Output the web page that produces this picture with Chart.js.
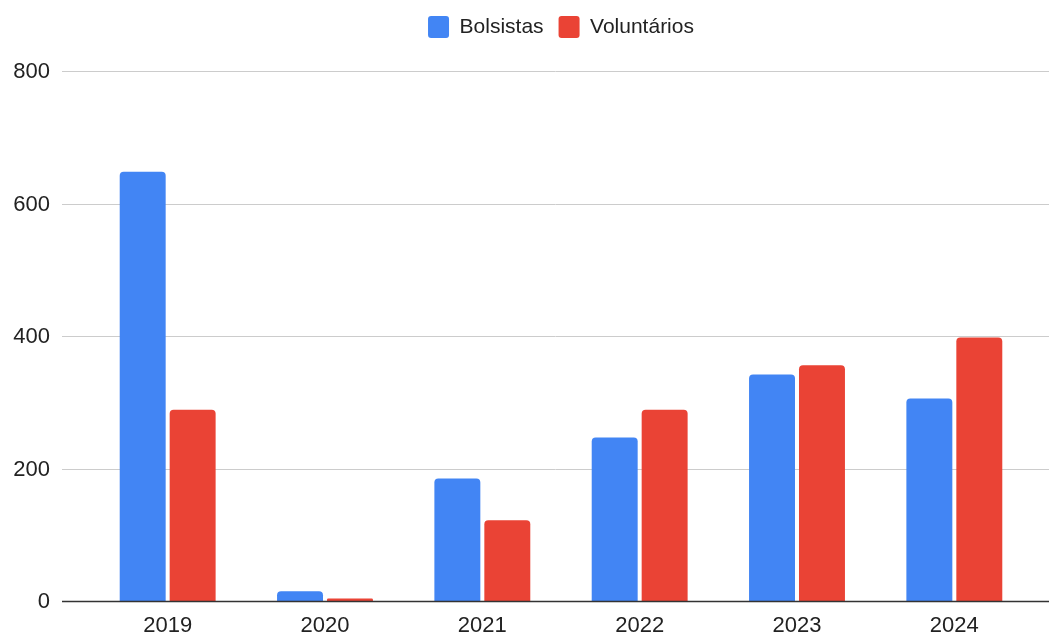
<!DOCTYPE html>
<html>
<head>
<meta charset="utf-8">
<script src="https://cdn.jsdelivr.net/npm/chart.js@4"></script>
<style>
  html, body { margin: 0; padding: 0; background: #fff; }
  #wrap { width: 1049px; height: 632px; }
</style>
</head>
<body>
<div id="wrap"><canvas id="myChart"></canvas></div>
<script>
var anos = ['2019', '2020', '2021', '2022', '2023', '2024'];
var bolsistas = [648, 15, 185, 247, 342, 306];
var voluntarios = [289, 4, 122, 289, 356, 398];
var ticksY = [0, 200, 400, 600, 800];

var fonte = "'Liberation Sans', Arial, sans-serif";

// linhas de grade e rotulos do eixo y no estilo do Google Charts
var gradePlugin = {
    id: 'grade',
    beforeInit: function (chart) {
        // espaco extra abaixo da legenda
        var fitOriginal = chart.legend.fit;
        chart.legend.fit = function () {
            fitOriginal.bind(chart.legend)();
            this.height += 23;
        };
    },
    beforeDatasetsDraw: function (chart) {
        var ctx = chart.ctx;
        var y = chart.scales.y;
        ctx.save();
        ticksY.forEach(function (v) {
            var py = Math.round(y.getPixelForValue(v)) + 0.5;
            if (v !== 0) {
                ctx.beginPath();
                ctx.moveTo(62, py);
                ctx.lineTo(1049, py);
                ctx.lineWidth = 1;
                ctx.strokeStyle = '#cccccc';
                ctx.stroke();
            }
            ctx.fillStyle = '#222222';
            ctx.font = '22px ' + fonte;
            ctx.textAlign = 'right';
            ctx.textBaseline = 'middle';
            ctx.fillText(String(v), 50, py);
        });
        ctx.restore();
    },
    afterDatasetsDraw: function (chart) {
        var ctx = chart.ctx;
        var py = Math.round(chart.scales.y.getPixelForValue(0)) + 0.5;
        ctx.save();
        ctx.beginPath();
        ctx.moveTo(62, py);
        ctx.lineTo(1049, py);
        ctx.lineWidth = 1.6;
        ctx.strokeStyle = '#333333';
        ctx.stroke();
        ctx.restore();
    }
};

var ctx = document.getElementById('myChart').getContext('2d');
var myChart = new Chart(ctx, {
    type: 'bar',
    data: {
        labels: anos,
        datasets: [{
            label: 'Bolsistas',
            data: bolsistas,
            backgroundColor: '#4285F4',
            borderRadius: { topLeft: 4, topRight: 4 },
            borderSkipped: 'bottom'
        }, {
            label: 'Voluntários',
            data: voluntarios,
            backgroundColor: '#EA4335',
            borderRadius: { topLeft: 4, topRight: 4 },
            borderSkipped: 'bottom'
        }]
    },
    options: {
        responsive: true,
        maintainAspectRatio: false,
        animation: false,
        datasets: {
            bar: { barPercentage: 0.92, categoryPercentage: 0.635 }
        },
        layout: { padding: { left: 89, right: 16, top: 1, bottom: -19 } },
        scales: {
            x: {
                grid: { display: false, drawTicks: false },
                border: { display: false },
                ticks: {
                    font: { family: fonte, size: 22, lineHeight: 0.9 },
                    color: '#222222',
                    padding: 15
                }
            },
            y: {
                min: 0,
                max: 800,
                grid: { display: false, drawTicks: false },
                border: { display: false },
                afterBuildTicks: function (axis) {
                    axis.ticks = ticksY.map(function (v) { return { value: v }; });
                },
                ticks: { display: false }
            }
        },
        plugins: {
            legend: {
                position: 'top',
                labels: {
                    font: { family: fonte, size: 21 },
                    color: '#222222',
                    boxWidth: 21,
                    boxHeight: 22,
                    useBorderRadius: true,
                    borderRadius: 3,
                    padding: 15
                }
            },
            tooltip: { enabled: false }
        }
    },
    plugins: [gradePlugin]
});
</script>
</body>
</html>
